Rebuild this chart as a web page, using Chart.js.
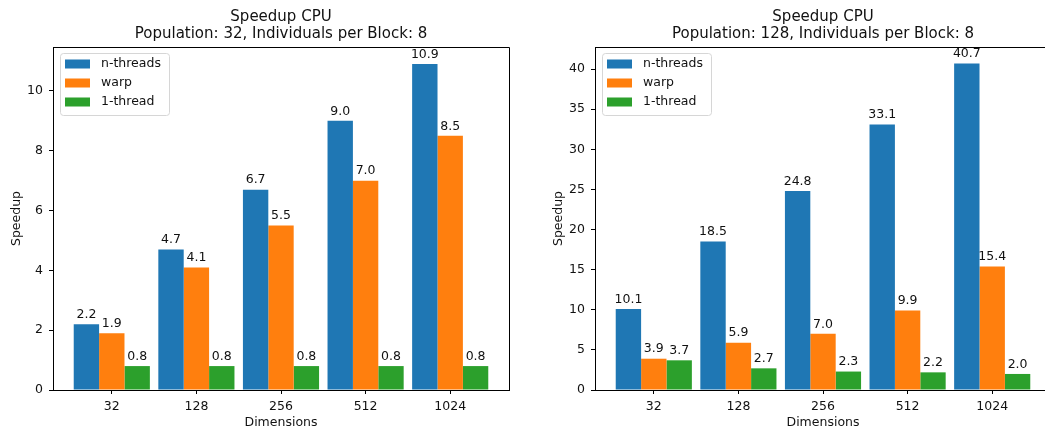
<!DOCTYPE html>
<html>
<head>
<meta charset="utf-8">
<script src="https://cdn.jsdelivr.net/npm/chart.js@4"></script>
<style>
  html, body { margin: 0; padding: 0; background: #fff; overflow: hidden; width: 1045px; height: 431px; }
  canvas { position: absolute; top: 0; }
  #chartLeft { left: 0; }
  #chartRight { left: 542px; }
</style>
</head>
<body>
<canvas id="chartLeft" width="530" height="431"></canvas>
<canvas id="chartRight" width="530" height="431"></canvas>
<script>
const dimensions = ['32', '128', '256', '512', '1024'];
const seriesNames = ['n-threads', 'warp', '1-thread'];
const seriesColors = ['#1f77b4', '#ff7f0e', '#2ca02c'];

// population 32
const nThreads32 = [2.2, 4.7, 6.7, 9.0, 10.9];
const warp32 = [1.9, 4.1, 5.5, 7.0, 8.5];
const oneThread32 = [0.8, 0.8, 0.8, 0.8, 0.8];

// population 128
const nThreads128 = [10.1, 18.5, 24.8, 33.1, 40.7];
const warp128 = [3.9, 5.9, 7.0, 9.9, 15.4];
const oneThread128 = [3.7, 2.7, 2.3, 2.2, 2.0];

const FONT = 'DejaVu Sans';
const FONT_SIZE = 12.5;
const TITLE_SIZE = 15;
const TEXT = '#111';

// title, box around the plot area, value labels on bars, legend in the upper left
const framePlugin = {
    id: 'frame',
    afterDatasetsDraw(chart) {
        const ctx = chart.ctx;
        ctx.save();
        ctx.font = FONT_SIZE + 'px "' + FONT + '"';
        ctx.fillStyle = TEXT;
        ctx.textAlign = 'center';
        ctx.textBaseline = 'middle';
        chart.data.datasets.forEach((ds, i) => {
            const meta = chart.getDatasetMeta(i);
            meta.data.forEach((bar, j) => {
                ctx.fillText(ds.data[j].y.toFixed(1), bar.x, bar.y - 9.5);
            });
        });
        ctx.restore();
    },
    afterDraw(chart, args, opts) {
        const ctx = chart.ctx;
        const ca = chart.chartArea;
        ctx.save();
        ctx.strokeStyle = '#000';
        ctx.lineWidth = 1;
        ctx.beginPath();
        ctx.moveTo(ca.left, ca.top + 0.5);
        ctx.lineTo(ca.right + 0.5, ca.top + 0.5);
        ctx.lineTo(ca.right + 0.5, ca.bottom);
        ctx.stroke();

        // two-line title centred over the axes
        ctx.font = TITLE_SIZE + 'px "' + FONT + '"';
        ctx.fillStyle = TEXT;
        ctx.textAlign = 'center';
        ctx.textBaseline = 'middle';
        const cx = (ca.left + ca.right) / 2;
        opts.lines.forEach((line, i) => ctx.fillText(line, cx, 17.5 + i * 17));

        // legend
        ctx.font = FONT_SIZE + 'px "' + FONT + '"';
        const x = ca.left + 7, y = ca.top + 6, w = 109, h = 62;
        ctx.fillStyle = 'rgba(255,255,255,0.8)';
        ctx.strokeStyle = '#d6d6d6';
        ctx.beginPath();
        ctx.roundRect(x + 0.5, y + 0.5, w, h, 3);
        ctx.fill();
        ctx.stroke();
        ctx.textAlign = 'left';
        chart.data.datasets.forEach((ds, i) => {
            const cy = ca.top + 17 + i * 19;
            ctx.fillStyle = ds.backgroundColor;
            ctx.fillRect(ca.left + 12, cy - 4.5, 25, 9);
            ctx.fillStyle = TEXT;
            ctx.fillText(ds.label, ca.left + 48, cy);
        });
        ctx.restore();
    }
};

function makeChart(id, population, series, yMax, yStep) {
    const datasets = series.map((values, i) => ({
        label: seriesNames[i],
        data: values.map((v, j) => ({ x: j, y: v })),
        backgroundColor: seriesColors[i],
        borderWidth: 0,
        categoryPercentage: 0.9,
        barPercentage: 1.0
    }));
    const tickFont = { family: FONT, size: FONT_SIZE };
    return new Chart(document.getElementById(id), {
        type: 'bar',
        data: { datasets: datasets },
        plugins: [framePlugin],
        options: {
            responsive: false,
            animation: false,
            devicePixelRatio: 1,
            layout: { padding: { left: 0, right: 21, top: 47, bottom: 0 } },
            plugins: {
                legend: { display: false },
                tooltip: { enabled: false },
                title: { display: false },
                frame: { lines: ['Speedup CPU', 'Population: ' + population + ', Individuals per Block: 8'] }
            },
            scales: {
                x: {
                    type: 'linear',
                    min: -0.695,
                    max: 4.695,
                    offset: false,
                    afterBuildTicks: axis => { axis.ticks = dimensions.map((d, i) => ({ value: i })); },
                    afterFit: scale => { scale.height = 41; },
                    ticks: {
                        color: TEXT,
                        font: tickFont,
                        padding: 5,
                        maxRotation: 0,
                        includeBounds: false,
                        callback: v => dimensions[v]
                    },
                    grid: { offset: false, drawOnChartArea: false, drawTicks: true, tickLength: 4, color: '#000', tickWidth: 1 },
                    border: { display: true, color: '#000', width: 1 },
                    title: {
                        display: true,
                        text: 'Dimensions',
                        color: TEXT,
                        font: tickFont,
                        padding: { top: 0, bottom: 0.8 }
                    }
                },
                y: {
                    min: 0,
                    max: yMax,
                    afterFit: scale => { scale.width = 53; },
                    ticks: {
                        stepSize: yStep,
                        includeBounds: false,
                        color: TEXT,
                        font: tickFont,
                        padding: 6
                    },
                    grid: { drawOnChartArea: false, drawTicks: true, tickLength: 4, color: '#000', tickWidth: 1 },
                    border: { display: true, color: '#000', width: 1 },
                    title: {
                        display: true,
                        text: 'Speedup',
                        color: TEXT,
                        font: tickFont,
                        padding: { top: 9.5, bottom: 0 }
                    }
                }
            }
        }
    });
}

makeChart('chartLeft', 32, [nThreads32, warp32, oneThread32], 11.47, 2);
makeChart('chartRight', 128, [nThreads128, warp128, oneThread128], 42.75, 5);
</script>
</body>
</html>
